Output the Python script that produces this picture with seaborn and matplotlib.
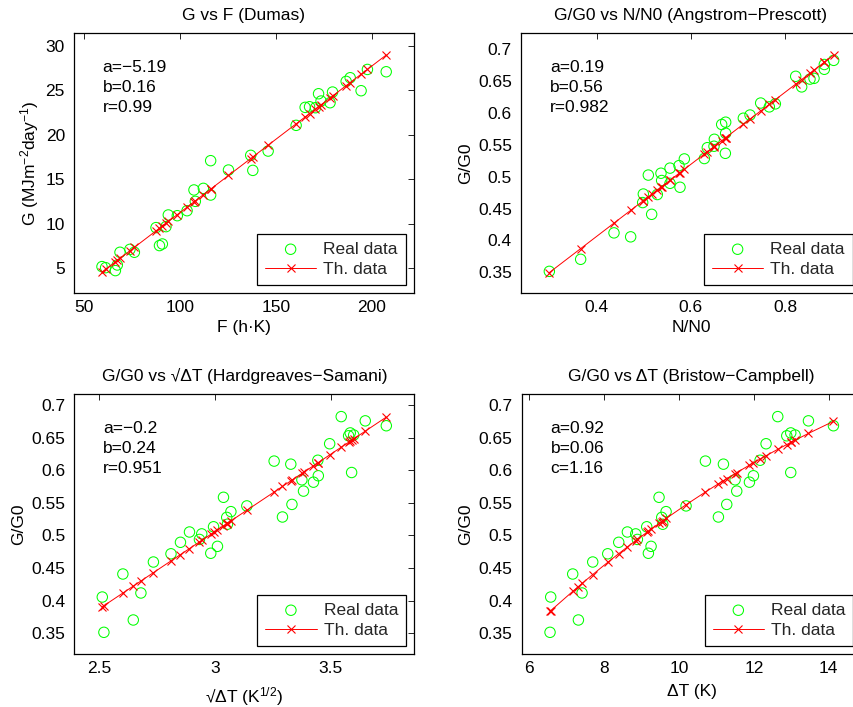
import numpy as np
import matplotlib
matplotlib.use("Agg")
import matplotlib.pyplot as plt
from matplotlib.ticker import FuncFormatter, FixedLocator
import seaborn as sns

# ---- measurements: Dumas panel (irradiation G vs F) ----
F_hK = [59.2, 61.1, 66.2, 67.2, 68.6, 73.8, 76.1, 87.4, 89.2, 90.7, 92.6, 93.8,
        98.5, 103.6, 107.2, 107.9, 112.1, 115.9, 115.9, 125.2, 136.8, 137.9,
        145.9, 160.5, 165.2, 167.5, 170.6, 172.2, 173.5, 178.2, 179.5, 186.6,
        188.7, 194.4, 197.7, 207.5]
G_real = [5.19, 5.07, 4.74, 5.37, 6.80, 7.13, 6.80, 9.57, 7.55, 7.73, 9.68, 10.99,
          10.91, 11.47, 13.80, 12.52, 13.98, 13.23, 17.09, 16.04, 17.69, 16.00,
          18.17, 21.06, 23.08, 23.15, 23.04, 24.61, 23.79, 23.60, 24.80, 26.00,
          26.41, 24.95, 27.34, 27.08]

# ---- clearness index G/G0 shared by the other three panels ----
G_G0 = [0.3515, 0.3704, 0.4056, 0.4118, 0.4409, 0.4593, 0.4719, 0.4727, 0.4833,
        0.4895, 0.4939, 0.5024, 0.5053, 0.5133, 0.5172, 0.5277, 0.5283, 0.5365,
        0.5453, 0.5476, 0.5585, 0.5680, 0.5817, 0.5853, 0.5915, 0.5965, 0.6093,
        0.6140, 0.6153, 0.6406, 0.6528, 0.6540, 0.6572, 0.6682, 0.6757, 0.6822]
N_N0 = [0.2995, 0.366, 0.4722, 0.4368, 0.5168, 0.4977, 0.5288, 0.4991, 0.577,
        0.5558, 0.538, 0.5097, 0.5366, 0.5558, 0.5749, 0.5862, 0.6287, 0.6733,
        0.635, 0.6492, 0.6499, 0.674, 0.6655, 0.674, 0.7115, 0.7257, 0.7667,
        0.7795, 0.7483, 0.8354, 0.8531, 0.8616, 0.8227, 0.8835, 0.8835, 0.9034]
sqrt_dT = [2.520, 2.647, 2.513, 2.680, 2.602, 2.734, 2.810, 2.982, 3.011, 2.851,
           2.933, 2.943, 2.890, 2.994, 3.054, 3.051, 3.292, 3.069, 3.138, 3.333,
           3.037, 3.383, 3.426, 3.376, 3.447, 3.591, 3.328, 3.256, 3.445, 3.496,
           3.578, 3.600, 3.585, 3.741, 3.650, 3.546]
dT = [6.552, 7.310, 6.570, 7.408, 7.158, 7.693, 8.094, 9.180, 9.252, 8.388,
      8.886, 8.842, 8.619, 9.136, 9.563, 9.537, 11.051, 9.653, 10.187, 11.274,
      9.465, 11.541, 11.880, 11.497, 11.987, 12.984, 11.185, 10.704, 12.165,
      12.325, 12.878, 13.100, 12.984, 14.125, 13.457, 12.637]

# ---- coefficient read-outs printed in each panel ----
coef_dumas = ["a=\u22125.19", "b=0.16", "r=0.99"]
coef_angstrom = ["a=0.19", "b=0.56", "r=0.982"]
coef_hargreaves = ["a=\u22120.2", "b=0.24", "r=0.951"]
coef_bristow = ["a=0.92", "b=0.06", "c=1.16"]


def linear_model(x, y):
    x = np.asarray(x, float)
    slope, intercept = np.polyfit(x, np.asarray(y, float), 1)
    return intercept + slope * x


def bristow_campbell_model(x, y):
    # least squares search within the rounding range of the reported a, b, c
    x = np.asarray(x, float)
    y = np.asarray(y, float)
    A = np.linspace(0.915, 0.925, 21)[:, None, None, None]
    B = np.linspace(0.055, 0.065, 41)[None, :, None, None]
    C = np.linspace(1.155, 1.165, 21)[None, None, :, None]
    pred = A * (1 - np.exp(-B * x ** C))
    sse = ((pred - y) ** 2).sum(axis=-1)
    i, j, k = np.unravel_index(np.argmin(sse), sse.shape)
    a, b, c = A[i, 0, 0, 0], B[0, j, 0, 0], C[0, 0, k, 0]
    return a * (1 - np.exp(-b * x ** c))


sns.set_style("white")
FONT = ["Liberation Sans", "DejaVu Sans"]
plt.rcParams["font.family"] = FONT
plt.rcParams["font.size"] = 12.5
plt.rcParams["mathtext.fontset"] = "custom"
plt.rcParams["mathtext.rm"] = "Liberation Sans"
plt.rcParams["axes.unicode_minus"] = True

fig = plt.figure(figsize=(8.54, 7.07), dpi=100)
W, H = 854.0, 707.0


def make_axes(left_px, top_px, width_px=340.0, height_px=260.0):
    return fig.add_axes([left_px / W, 1 - (top_px + height_px) / H,
                         width_px / W, height_px / H])


def trim(v, pos):
    return f"{round(v, 6):g}"


panels = [
    dict(pos=(74.0, 33.3), x=F_hK, y=G_real, th=linear_model(F_hK, G_real),
         xlim=(44.6, 222.0), ylim=(2.19, 31.4),
         xticks=[50, 100, 150, 200], yticks=[5, 10, 15, 20, 25, 30],
         title="G vs F (Dumas)", xlabel="F (h\u00b7K)",
         ylabel="G (MJm$\\mathregular{^{-2}}$day$\\mathregular{^{-1}}$)",
         ylab_x=-0.097, xlab_y=-0.103, coef=coef_dumas, text_x=0.084),
    dict(pos=(521.0, 33.3), x=N_N0, y=G_G0, th=linear_model(N_N0, G_G0),
         xlim=(0.2393, 0.9614), ylim=(0.3171, 0.7246),
         xticks=[0.4, 0.6, 0.8], yticks=np.arange(0.35, 0.701, 0.05),
         title="G/G0 vs N/N0 (Angstrom\u2212Prescott)", xlabel="N/N0",
         ylabel="G/G0", ylab_x=-0.141, xlab_y=-0.103,
         coef=coef_angstrom, text_x=0.085),
    dict(pos=(74.3, 394.3), x=sqrt_dT, y=G_G0, th=linear_model(sqrt_dT, G_G0),
         xlim=(2.392, 3.862), ylim=(0.3178, 0.7164),
         xticks=[2.5, 3, 3.5], yticks=np.arange(0.35, 0.701, 0.05),
         title="G/G0 vs \u221a\u0394T (Hardgreaves\u2212Samani)",
         xlabel="\u221a\u0394T (K$\\mathregular{^{1/2}}$)",
         ylabel="G/G0", ylab_x=-0.141, xlab_y=-0.118,
         coef=coef_hargreaves, text_x=0.084),
    dict(pos=(521.7, 394.3), x=dT, y=G_G0, th=bristow_campbell_model(dT, G_G0),
         xlim=(5.795, 14.88), ylim=(0.3178, 0.7164),
         xticks=[6, 8, 10, 12, 14], yticks=np.arange(0.35, 0.701, 0.05),
         title="G/G0 vs \u0394T (Bristow\u2212Campbell)", xlabel="\u0394T (K)",
         ylabel="G/G0", ylab_x=-0.143, xlab_y=-0.113,
         coef=coef_bristow, text_x=0.085),
]

for p in panels:
    ax = make_axes(*p["pos"])
    sns.scatterplot(x=p["x"], y=p["y"], ax=ax, marker="o", s=56,
                    facecolor="none", edgecolor="#00ff00", linewidth=0.75,
                    label="Real data", zorder=2)
    sns.lineplot(x=p["x"], y=p["th"], ax=ax, color="#ff0000", lw=0.7,
                 marker="x", markersize=6, markeredgecolor="#ff0000",
                 markeredgewidth=0.8, sort=True, estimator=None,
                 label="Th. data", zorder=3)
    ax.set_xlim(*p["xlim"])
    ax.set_ylim(*p["ylim"])
    ax.xaxis.set_major_locator(FixedLocator(p["xticks"]))
    ax.yaxis.set_major_locator(FixedLocator(list(p["yticks"])))
    ax.xaxis.set_major_formatter(FuncFormatter(trim))
    ax.yaxis.set_major_formatter(FuncFormatter(trim))
    ax.tick_params(direction="in", top=True, right=True, length=4, width=0.6,
                   color="black", labelsize=12.5, labelcolor="black")
    ax.tick_params(axis="x", pad=5)
    ax.tick_params(axis="y", pad=6.5)
    for s in ax.spines.values():
        s.set_visible(True)
        s.set_color("black")
        s.set_linewidth(0.9)
    ax.set_title(p["title"], fontsize=12.5, pad=9.5, color="black")
    ax.set_xlabel(p["xlabel"], fontsize=12.5, color="black")
    ax.set_ylabel(p["ylabel"], fontsize=12.5, color="black")
    ax.yaxis.set_label_coords(p["ylab_x"], 0.5)
    ax.xaxis.set_label_coords(0.5, p["xlab_y"])
    for line, yy in zip(p["coef"], (0.851, 0.774, 0.698)):
        ax.text(p["text_x"], yy, line, transform=ax.transAxes, fontsize=12.5,
                va="baseline", ha="left", color="black")
    leg = ax.legend(loc="lower right", frameon=True, fancybox=False,
                    edgecolor="black", framealpha=1, borderaxespad=0.48,
                    handlelength=2.97, handletextpad=0.4, borderpad=0.45,
                    labelspacing=0.3, scatterpoints=1, fontsize=12.5)
    leg.get_frame().set_linewidth(0.9)

fig.savefig("out.png", dpi=100)
